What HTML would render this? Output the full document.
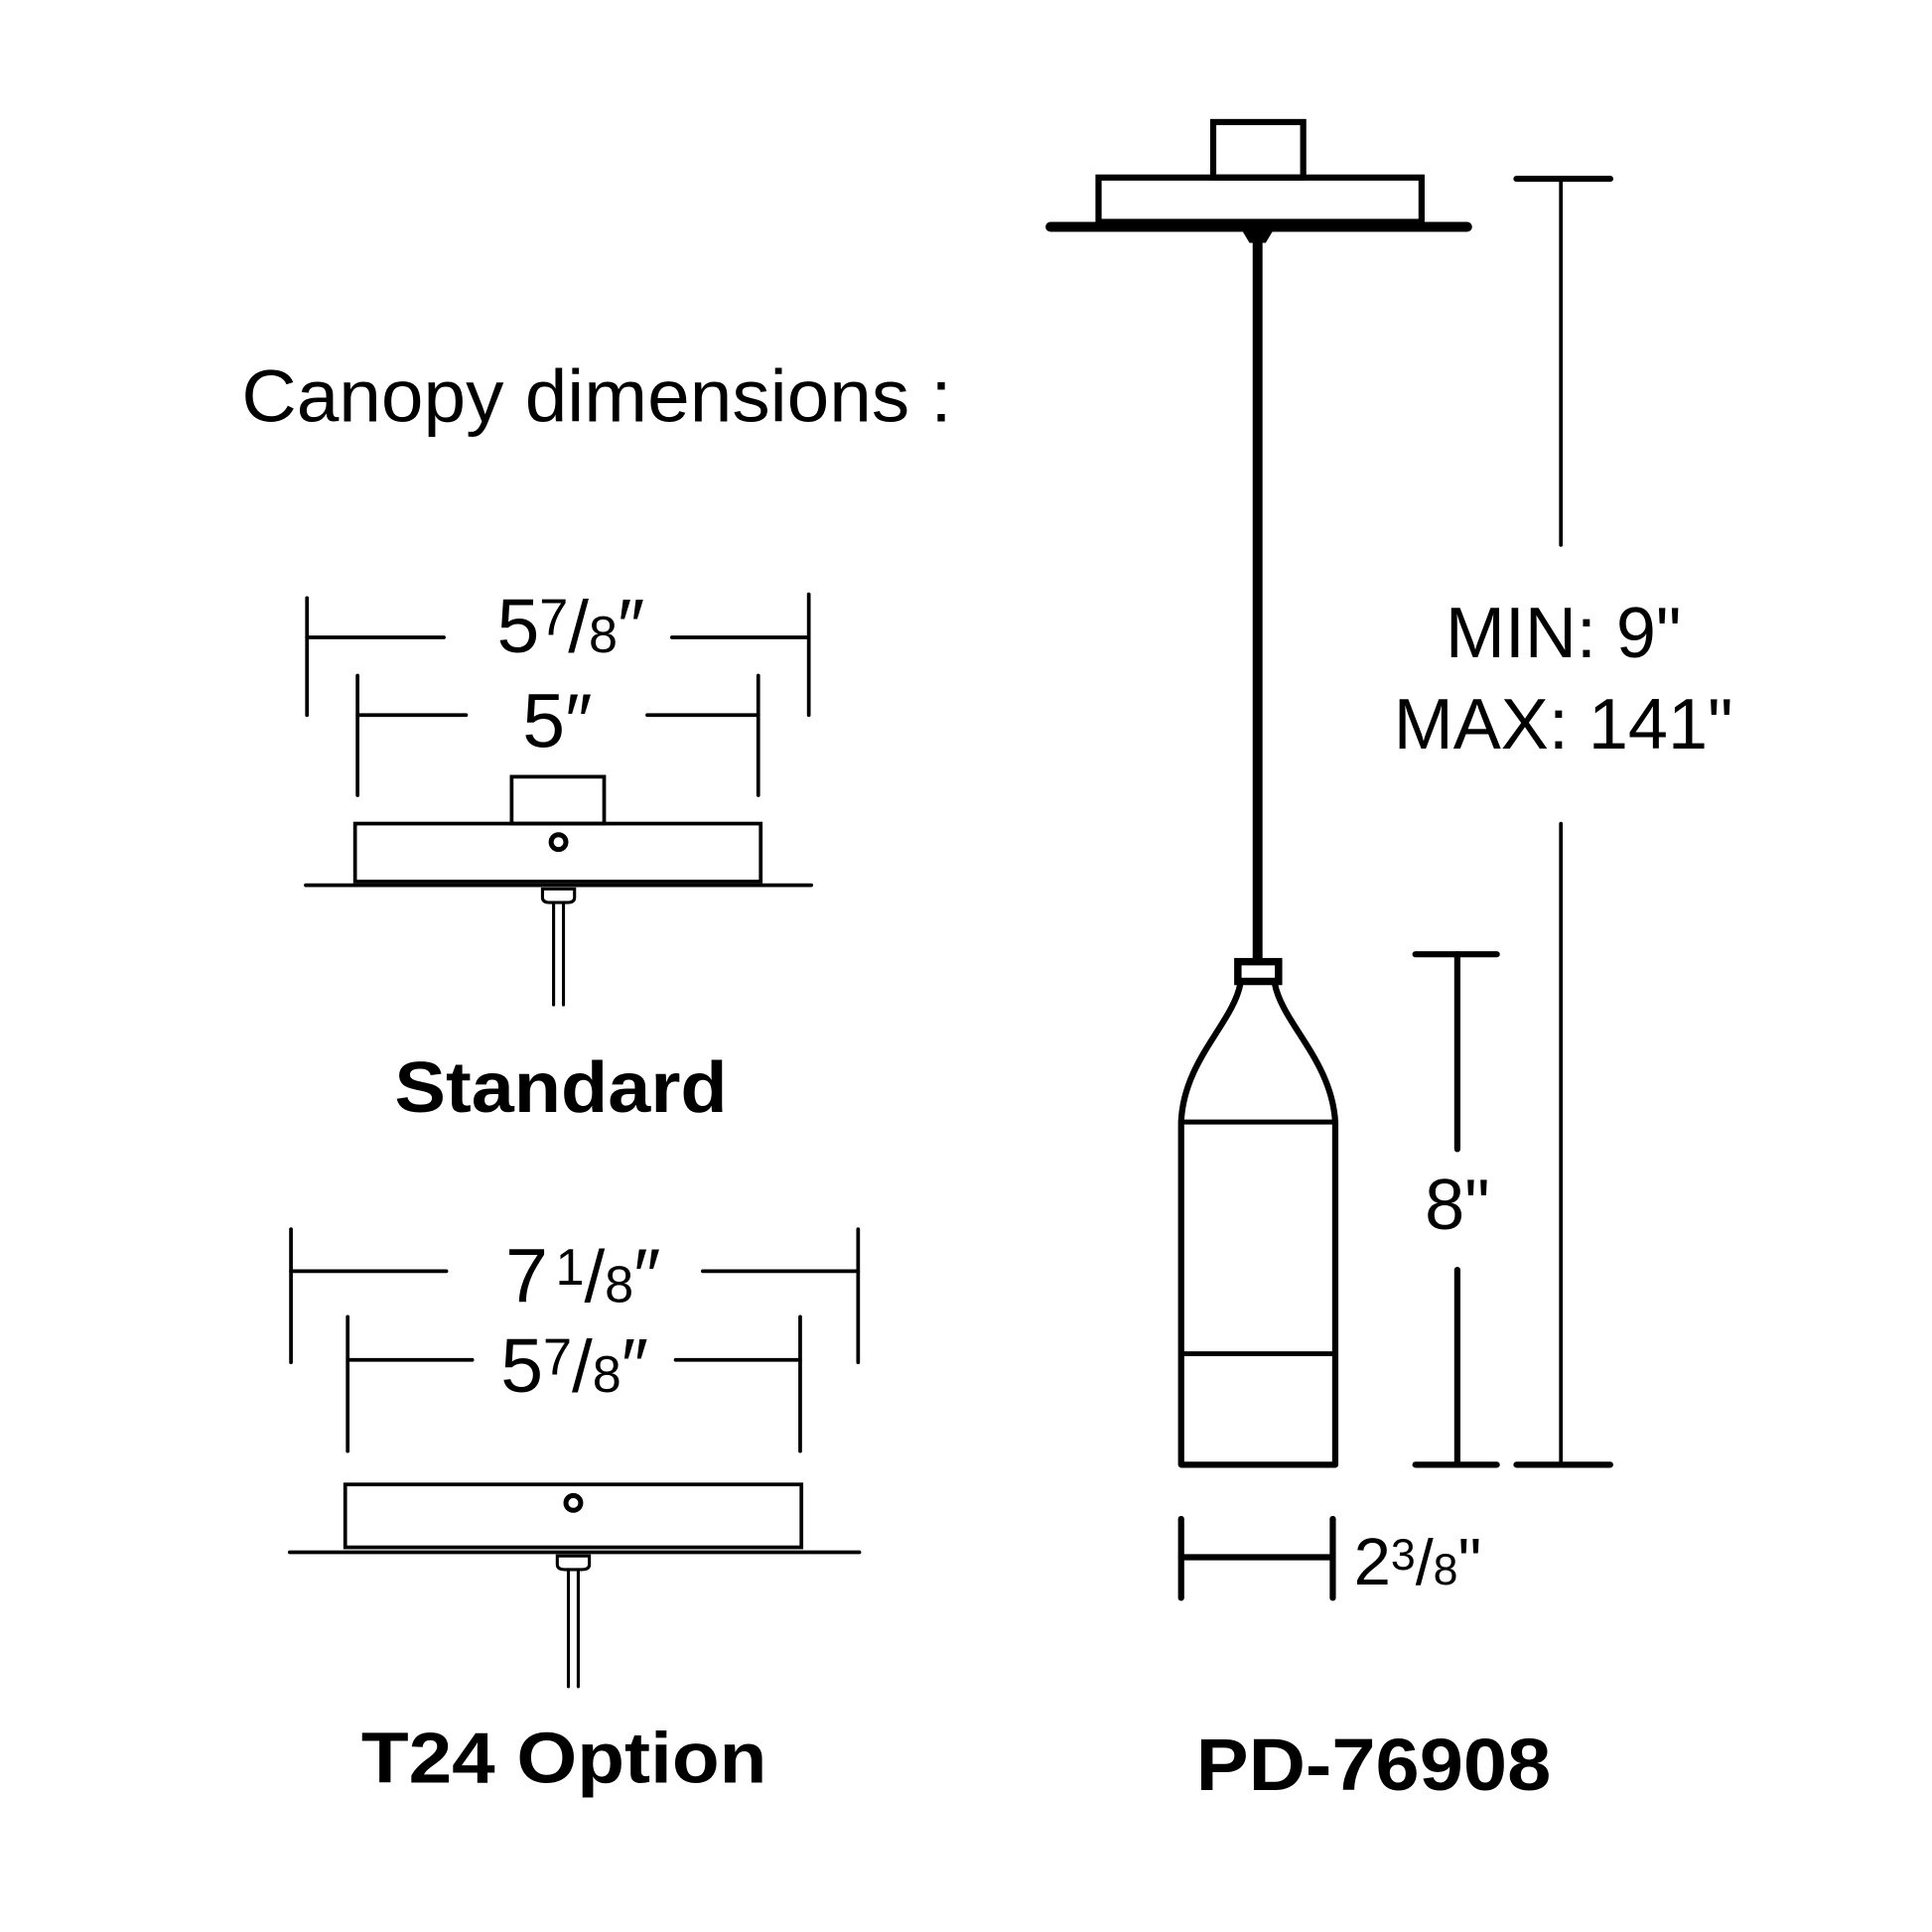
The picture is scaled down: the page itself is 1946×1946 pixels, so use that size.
<!DOCTYPE html>
<html><head><meta charset="utf-8"><style>
html,body{margin:0;padding:0;background:#fff;}
svg{display:block}
text{font-family:"Liberation Sans","DejaVu Sans",sans-serif;fill:#000}
</style></head><body>
<svg width="1946" height="1946" viewBox="0 0 1567 1567" xmlns="http://www.w3.org/2000/svg">
<g stroke="#000" fill="none" stroke-linecap="round">
<rect x="984" y="99" width="73" height="45" stroke-width="5"/>
<rect x="891" y="144" width="262" height="36" stroke-width="5"/>
<line x1="852" y1="184" x2="1190" y2="184" stroke-width="8"/>
<path d="M1008 186 L1032 186 L1026 196 L1014 196 Z" fill="#000" stroke-width="2"/>
<line x1="1020" y1="196" x2="1020" y2="778" stroke-width="8" stroke-linecap="butt"/>
<rect x="1004" y="780" width="33" height="16" stroke-width="6"/>
<path d="M1006 798 C1000 830 960 860 958 910 L958 1188 L1083 1188 L1083 910 C1080 860 1040 830 1034 798" stroke-width="5" stroke-linejoin="round"/>
<line x1="958" y1="910" x2="1083" y2="910" stroke-width="4"/>
<line x1="958" y1="1098" x2="1083" y2="1098" stroke-width="4"/>
<line x1="958" y1="1232" x2="958" y2="1296" stroke-width="5"/>
<line x1="1081" y1="1232" x2="1081" y2="1296" stroke-width="5"/>
<line x1="958" y1="1263" x2="1081" y2="1263" stroke-width="5"/>
<line x1="1148" y1="774" x2="1214" y2="774" stroke-width="5"/>
<line x1="1182" y1="774" x2="1182" y2="932" stroke-width="5"/>
<line x1="1182" y1="1030" x2="1182" y2="1188" stroke-width="5"/>
<line x1="1148" y1="1188" x2="1214" y2="1188" stroke-width="5"/>
<line x1="1230" y1="145" x2="1306" y2="145" stroke-width="5"/>
<line x1="1266" y1="145" x2="1266" y2="442" stroke-width="3"/>
<line x1="1266" y1="668" x2="1266" y2="1188" stroke-width="3"/>
<line x1="1230" y1="1188" x2="1306" y2="1188" stroke-width="5"/>
<line x1="249" y1="485" x2="249" y2="580" stroke-width="3"/>
<line x1="656" y1="482" x2="656" y2="580" stroke-width="3"/>
<line x1="249" y1="517" x2="360" y2="517" stroke-width="3"/>
<line x1="545" y1="517" x2="656" y2="517" stroke-width="3"/>
<line x1="290" y1="548" x2="290" y2="645" stroke-width="3"/>
<line x1="615" y1="548" x2="615" y2="645" stroke-width="3"/>
<line x1="290" y1="580" x2="378" y2="580" stroke-width="3"/>
<line x1="525" y1="580" x2="615" y2="580" stroke-width="3"/>
<rect x="415" y="630" width="75" height="38" stroke-width="3"/>
<rect x="288" y="668" width="329" height="47" stroke-width="3"/>
<line x1="248" y1="718" x2="658" y2="718" stroke-width="3"/>
<circle cx="453" cy="683" r="6" stroke-width="4"/>
<path d="M440 721 L466 721 L466 728 Q466 732 460 732 L446 732 Q440 732 440 728 Z" stroke-width="2.5"/>
<line x1="449" y1="732" x2="449" y2="815" stroke-width="2.5"/>
<line x1="457" y1="732" x2="457" y2="815" stroke-width="2.5"/>
<line x1="236" y1="997" x2="236" y2="1105" stroke-width="3"/>
<line x1="696" y1="997" x2="696" y2="1105" stroke-width="3"/>
<line x1="236" y1="1031" x2="362" y2="1031" stroke-width="3"/>
<line x1="570" y1="1031" x2="696" y2="1031" stroke-width="3"/>
<line x1="282" y1="1068" x2="282" y2="1177" stroke-width="3"/>
<line x1="649" y1="1068" x2="649" y2="1177" stroke-width="3"/>
<line x1="282" y1="1103" x2="383" y2="1103" stroke-width="3"/>
<line x1="548" y1="1103" x2="649" y2="1103" stroke-width="3"/>
<rect x="280" y="1204" width="370" height="51" stroke-width="3"/>
<line x1="235" y1="1259" x2="697" y2="1259" stroke-width="3"/>
<circle cx="465" cy="1219" r="6" stroke-width="4"/>
<path d="M452 1262 L478 1262 L478 1269 Q478 1273 472 1273 L458 1273 Q452 1273 452 1269 Z" stroke-width="2.5"/>
<line x1="461" y1="1273" x2="461" y2="1368" stroke-width="2.5"/>
<line x1="469" y1="1273" x2="469" y2="1368" stroke-width="2.5"/>
</g>
<text x="196" y="342" font-size="60" textLength="576" lengthAdjust="spacingAndGlyphs">Canopy dimensions :</text>
<text x="403" y="529" font-size="62">5<tspan font-size="42" dy="-14">7</tspan><tspan font-size="60" dy="14">/</tspan><tspan font-size="42">8</tspan><tspan font-size="62">″</tspan></text>
<text x="452" y="606" font-size="62" text-anchor="middle">5″</text>
<text x="320" y="902" font-size="58" font-weight="bold" textLength="270" lengthAdjust="spacingAndGlyphs">Standard</text>
<text x="410" y="1056" font-size="62">7<tspan font-size="42" dx="6" dy="-14">1</tspan><tspan font-size="60" dy="14">/</tspan><tspan font-size="42">8</tspan><tspan font-size="62">″</tspan></text>
<text x="406" y="1129" font-size="62">5<tspan font-size="42" dy="-14">7</tspan><tspan font-size="60" dy="14">/</tspan><tspan font-size="42">8</tspan><tspan font-size="62">″</tspan></text>
<text x="293" y="1446" font-size="58" font-weight="bold" textLength="329" lengthAdjust="spacingAndGlyphs">T24 Option</text>
<text x="1268" y="533" font-size="58" text-anchor="middle">MIN: 9"</text>
<text x="1268" y="607" font-size="58" text-anchor="middle">MAX: 141"</text>
<text x="1182" y="997" font-size="58" text-anchor="middle">8"</text>
<text x="1098" y="1285" font-size="54">2<tspan font-size="36" dy="-12">3</tspan><tspan font-size="52" dy="12">/</tspan><tspan font-size="36">8</tspan><tspan font-size="54">"</tspan></text>
<text x="970" y="1452" font-size="60" font-weight="bold" textLength="288" lengthAdjust="spacingAndGlyphs">PD-76908</text>
</svg>
</body></html>
